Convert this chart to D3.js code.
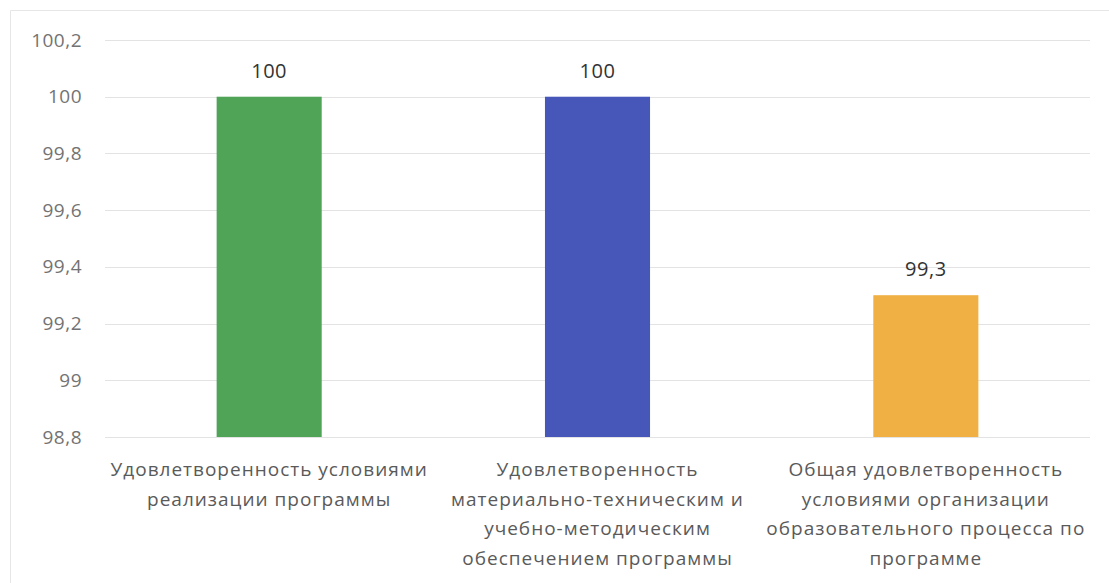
<!DOCTYPE html>
<html><head><meta charset="utf-8">
<script src="https://cdn.jsdelivr.net/npm/d3@7"></script>
<style>body{margin:0;background:#fff}svg{display:block}</style>
</head><body>
<script>
const categories = [
  ["Удовлетворенность условиями", "реализации программы"],
  ["Удовлетворенность", "материально-техническим и", "учебно-методическим", "обеспечением программы"],
  ["Общая удовлетворенность", "условиями организации", "образовательного процесса по", "программе"]
];
const values = [100, 100, 99.3];
const valueLabels = ["100", "100", "99,3"];
const colors = ["#4fa457", "#4657b9", "#f0b043"];
const tickValues = [98.8, 99, 99.2, 99.4, 99.6, 99.8, 100, 100.2];
const tickLabels = ["98,8", "99", "99,2", "99,4", "99,6", "99,8", "100", "100,2"];

const W = 1109, H = 583;
const svg = d3.select("body").append("svg").attr("width", W).attr("height", H);
const font = "'Open Sans', sans-serif";

svg.append("path").attr("d", "M10.5,583 L10.5,10.5 L1109,10.5")
  .attr("fill", "none").attr("stroke", "#e6e6e6");

const x = d3.scaleBand().domain(d3.range(categories.length)).range([105, 1090]).paddingInner(0.68).paddingOuter(0.34);
const y = d3.scaleLinear().domain([98.8, 100.2]).range([437, 40]);

const grid = svg.append("g");
grid.selectAll("line").data(tickValues).join("line")
  .attr("x1", 105).attr("x2", 1090)
  .attr("y1", d => Math.round(y(d)) + 0.5).attr("y2", d => Math.round(y(d)) + 0.5)
  .attr("stroke", "#e3e3e3").attr("stroke-width", 1.2);

const yAxis = d3.axisLeft(y).tickValues(tickValues).tickFormat((d, i) => tickLabels[i]).tickSize(0).tickPadding(0);
const ya = svg.append("g").attr("transform", "translate(82,0)").call(yAxis);
ya.select(".domain").remove();
ya.selectAll("text").attr("font-family", font).attr("font-size", 19).attr("letter-spacing", 0.5).attr("fill", "#737373");

svg.selectAll("rect.bar").data(values).join("rect").attr("class", "bar")
  .attr("x", (d, i) => x(i)).attr("width", x.bandwidth())
  .attr("y", d => y(d)).attr("height", d => y(98.8) - y(d))
  .attr("fill", (d, i) => colors[i]);

svg.selectAll("text.val").data(values).join("text").attr("class", "val")
  .attr("x", (d, i) => x(i) + x.bandwidth() / 2).attr("y", d => y(d) - 19)
  .attr("text-anchor", "middle").attr("font-family", font).attr("font-size", 20)
  .attr("letter-spacing", 0.5).attr("fill", "#333").text((d, i) => valueLabels[i]);

const lab = svg.selectAll("text.cat").data(categories).join("text").attr("class", "cat")
  .attr("text-anchor", "middle").attr("font-family", font).attr("font-size", 19)
  .attr("letter-spacing", 1).attr("fill", "#5a5a5a");
lab.each(function(lines, i) {
  const cx = x(i) + x.bandwidth() / 2;
  d3.select(this).selectAll("tspan").data(lines).join("tspan")
    .attr("x", cx).attr("y", (d, j) => 476 + j * 29.7).text(d => d);
});
</script>
</body></html>
